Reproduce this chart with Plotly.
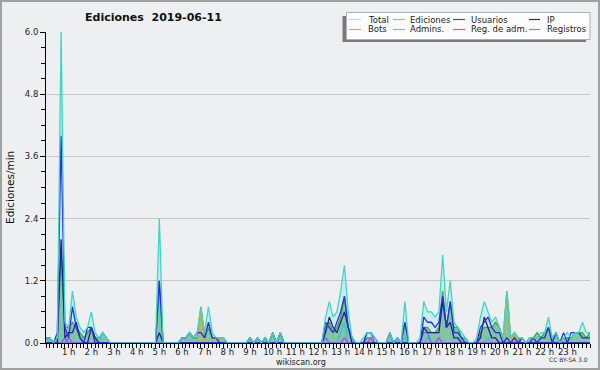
import plotly.graph_objects as go

# ---- data: edits per minute, 10-minute buckets, 00:00 .. 24:00 ----
total = [
    0.1, 0.1, 0, 0.1, 6.0, 0.4, 0.3, 1.0, 0.5, 0.3, 0.2, 0.3,
    0.6, 0.2, 0.1, 0.2, 0.1, 0, 0, 0, 0, 0, 0, 0,
    0, 0, 0, 0, 0, 0, 2.4, 0, 0, 0, 0, 0,
    0.1, 0.1, 0.2, 0.1, 0.2, 0.7, 0.2, 0.7, 0.2, 0.1, 0.1, 0.1,
    0, 0, 0, 0, 0, 0, 0.1, 0, 0.1, 0, 0.1, 0,
    0.2, 0, 0.2, 0, 0, 0, 0, 0, 0, 0, 0, 0,
    0, 0, 0.5, 0.8, 0.5, 0.6, 1.0, 1.5, 0.6, 0.1, 0, 0,
    0.1, 0.2, 0.2, 0.1, 0, 0, 0, 0.2, 0, 0.1, 0, 0.8,
    0, 0, 0, 0.1, 0.8, 0.6, 0.6, 0.5, 0.6, 1.7, 0.6, 1.2,
    0.4, 0.3, 0.2, 0.1, 0, 0, 0.1, 0.5, 0.8, 0.6, 0.4, 0.5,
    0.3, 0.1, 1.0, 0.1, 0.2, 0.1, 0.1, 0, 0.1, 0.1, 0.1, 0.2,
    0.2, 0.5, 0.1, 0.2, 0, 0.1, 0.2, 0.1, 0.2, 0.2, 0.4, 0.2,
    0.2,
]
ediciones = [
    0.1, 0.1, 0, 0.1, 1.8, 0.3, 0.3, 0.4, 0.3, 0.2, 0.1, 0.2,
    0.3, 0.1, 0.1, 0.2, 0.1, 0, 0, 0, 0, 0, 0, 0,
    0, 0, 0, 0, 0, 0, 1.2, 0, 0, 0, 0, 0,
    0.1, 0.1, 0.2, 0.1, 0.1, 0.7, 0.1, 0.3, 0.1, 0.1, 0.1, 0.1,
    0, 0, 0, 0, 0, 0, 0.1, 0, 0.1, 0, 0.1, 0,
    0.2, 0, 0.2, 0, 0, 0, 0, 0, 0, 0, 0, 0,
    0, 0, 0.3, 0.4, 0.2, 0.3, 0.5, 0.9, 0.3, 0.1, 0, 0,
    0, 0.1, 0.1, 0, 0, 0, 0, 0.2, 0, 0.1, 0, 0.4,
    0, 0, 0, 0, 0.3, 0.3, 0.2, 0.2, 0.3, 1.0, 0.3, 0.8,
    0.3, 0.3, 0.1, 0.1, 0, 0, 0, 0.2, 0.3, 0.3, 0.3, 0.4,
    0.3, 0.1, 1.0, 0.1, 0.2, 0.1, 0, 0, 0.1, 0.1, 0.2, 0.1,
    0.2, 0.3, 0.1, 0.2, 0, 0.1, 0.1, 0.1, 0.2, 0.2, 0.2, 0.1,
    0.2,
]
usuarios = [
    0.1, 0.1, 0, 0.2, 4.0, 0.3, 0.1, 0.7, 0.3, 0.1, 0, 0.3,
    0.3, 0, 0, 0, 0, 0, 0, 0, 0, 0, 0, 0,
    0, 0, 0, 0, 0, 0, 1.2, 0, 0, 0, 0, 0,
    0.1, 0.1, 0.2, 0.1, 0.2, 0.2, 0.1, 0.4, 0.1, 0.1, 0, 0,
    0, 0, 0, 0, 0, 0, 0.1, 0, 0.1, 0, 0.1, 0,
    0.2, 0, 0.2, 0, 0, 0, 0, 0, 0, 0, 0, 0,
    0, 0, 0.4, 0.3, 0.2, 0.4, 0.6, 0.9, 0.3, 0.1, 0, 0,
    0, 0.2, 0.2, 0.1, 0, 0, 0, 0.2, 0, 0.1, 0, 0.4,
    0, 0, 0, 0, 0.5, 0.4, 0.4, 0.3, 0.4, 0.9, 0.3, 0.8,
    0.2, 0.2, 0.1, 0, 0, 0, 0, 0.3, 0.4, 0.5, 0.3, 0.2,
    0.2, 0, 0.1, 0, 0.1, 0, 0.1, 0, 0, 0.1, 0, 0.1,
    0.1, 0.3, 0, 0.2, 0, 0.2, 0, 0.2, 0.2, 0.2, 0.1, 0.1,
    0.1,
]
ip = [
    0, 0, 0, 0, 2.0, 0.1, 0.2, 0.2, 0.4, 0.1, 0, 0,
    0.3, 0.1, 0, 0, 0, 0, 0, 0, 0, 0, 0, 0,
    0, 0, 0, 0, 0, 0, 0.2, 0, 0, 0, 0, 0,
    0, 0, 0, 0, 0, 0, 0, 0, 0, 0, 0, 0,
    0, 0, 0, 0, 0, 0, 0, 0, 0, 0, 0, 0,
    0, 0, 0, 0, 0, 0, 0, 0, 0, 0, 0, 0,
    0, 0, 0.2, 0.5, 0.3, 0.2, 0.4, 0.6, 0.3, 0, 0, 0,
    0, 0, 0, 0, 0, 0, 0, 0, 0, 0, 0, 0,
    0, 0, 0, 0, 0.3, 0.2, 0.2, 0.2, 0.2, 0.8, 0.3, 0.4,
    0.1, 0.1, 0, 0, 0, 0, 0, 0.1, 0.5, 0.3, 0.1, 0.1,
    0, 0, 0, 0, 0, 0, 0, 0, 0, 0, 0, 0,
    0, 0, 0, 0, 0, 0, 0, 0, 0, 0, 0, 0,
    0,
]
bots = [0] * 145
for i, v in [(0, 0.1), (41, 0.6), (45, 0.1), (46, 0.1), (47, 0.1), (122, 1.0), (124, 0.2)]:
    bots[i] = v
admins = [0] * 145
for i, v in [(0, 0.1), (15, 0.2), (16, 0.1), (78, 0.2), (79, 0.4), (95, 0.1), (101, 0.1), (117, 0.1)]:
    admins[i] = v
reg_adm = [0] * 145
for i, v in [(6, 0.1), (79, 0.1), (86, 0.1), (104, 0.1)]:
    reg_adm[i] = v
registros = [0] * 145
for i, v in [(5, 0.1), (74, 0.1), (85, 0.2), (86, 0.2), (100, 0.2), (101, 0.2)]:
    registros[i] = v

hours = [i / 6 for i in range(145)]
hour_ticks = list(range(1, 24))
hour_labels = [f"{h} h" for h in hour_ticks]

series = [
    ("Total", total, "#3fd6c8", "#a8e6e0"),
    ("Ediciones", ediciones, "#3aa83a", "#88cc88"),
    ("Usuarios", usuarios, "#2a2ae6", "#4646dc"),
    ("IP", ip, "#1e1e96", "#333333"),
    ("Bots", bots, "#f0a020", "#f0a040"),
    ("Admins.", admins, "#38c0e0", "#55ccdd"),
    ("Reg. de adm.", reg_adm, "#c040e8", "#cc55dd"),
    ("Registros", registros, "#6a6aee", "#8080ee"),
]

BG = "#eeeff1"
FONT = "DejaVu Sans"
L, R, T, B, W, H = 46, 10, 32, 27, 600, 370
PW, PH = W - L - R, H - T - B


def px(x):
    return (x - L) / PW


def py(y):
    return (H - B - y) / PH


fig = go.Figure()
# fills
fig.add_trace(go.Scatter(x=hours, y=total, mode="none", fill="tozeroy",
                         fillcolor="rgba(64,224,208,0.2)", hoverinfo="skip", showlegend=False))
fig.add_trace(go.Scatter(x=hours, y=ediciones, mode="none", fill="tozeroy",
                         fillcolor="rgba(60,155,95,0.5)", hoverinfo="skip", showlegend=False))
# lines
draw_order = ["Ediciones", "Bots", "Admins.", "Reg. de adm.", "Registros", "IP", "Usuarios", "Total"]
lookup = {s[0]: s for s in series}
for name in draw_order:
    n, vals, col, _ = lookup[name]
    fig.add_trace(go.Scatter(x=hours, y=vals, mode="lines", name=n,
                             line=dict(color=col, width=1.3), showlegend=False))

shapes = []
annotations = []
# outer border
shapes.append(dict(type="rect", xref="paper", yref="paper",
                   x0=px(1), x1=px(599), y0=py(369), y1=py(1),
                   line=dict(color="#a0a0a0", width=2), fillcolor="rgba(0,0,0,0)", layer="above"))
# legend box with shadow
shapes.append(dict(type="rect", xref="paper", yref="paper",
                   x0=px(342.5), x1=px(586), y0=py(42), y1=py(16),
                   line=dict(width=0), fillcolor="#7a7a7a", layer="above"))
shapes.append(dict(type="rect", xref="paper", yref="paper",
                   x0=px(346.5), x1=px(590), y0=py(39.5), y1=py(12.5),
                   line=dict(color="#b0b0b0", width=1), fillcolor="#fdfdfd", layer="above"))
cols = [(349, 361, 366), (393, 405, 408), (453, 465, 469), (529, 540, 545)]
rows = [19.5, 29.5]
for k, (n, vals, col, lcol) in enumerate(series):
    r, c = divmod(k, 4)
    x0, x1, xt = cols[c]
    yy = rows[r]
    shapes.append(dict(type="line", xref="paper", yref="paper",
                       x0=px(x0), x1=px(x1), y0=py(yy), y1=py(yy),
                       line=dict(color=lcol, width=1.2), layer="above"))
    annotations.append(dict(text=n, xref="paper", yref="paper", x=px(xt), y=py(yy),
                            xanchor="left", yanchor="middle", showarrow=False,
                            font=dict(family=FONT, size=8.5, color="#222")))

annotations.append(dict(text="Ediciones\u00a0\u00a02019-06-11", xref="paper", yref="paper",
                        x=px(153.5), y=py(17), xanchor="center", yanchor="middle", showarrow=False,
                        font=dict(family=FONT, size=11, color="#111", weight="bold")))
annotations.append(dict(text="Ediciones/min", xref="paper", yref="paper",
                        x=px(10), y=py(188), xanchor="center", yanchor="middle", showarrow=False,
                        textangle=-90, font=dict(family=FONT, size=10.5, color="#111")))
annotations.append(dict(text="wikiscan.org", xref="paper", yref="paper",
                        x=px(301), y=py(362), xanchor="center", yanchor="middle", showarrow=False,
                        font=dict(family=FONT, size=8, color="#222")))
annotations.append(dict(text="CC BY-SA 3.0", xref="paper", yref="paper",
                        x=px(590), y=py(359), xanchor="right", yanchor="middle", showarrow=False,
                        font=dict(family=FONT, size=6, color="#333")))

fig.update_layout(
    width=W, height=H, margin=dict(l=L, r=R, t=T, b=B),
    paper_bgcolor=BG, plot_bgcolor=BG, showlegend=False,
    shapes=shapes, annotations=annotations,
    font=dict(family=FONT, size=8.5, color="#222"),
)
fig.update_xaxes(range=[0, 24], tickmode="array", tickvals=hour_ticks, ticktext=hour_labels,
                 showgrid=False, zeroline=False, showline=True, linecolor="#000", linewidth=1,
                 ticks="outside", ticklen=4, tickcolor="#000", tickfont=dict(size=8.5),
                 ticklabelstandoff=-3,
                 minor=dict(dtick=1 / 6, tick0=0, ticks="outside", ticklen=4, tickcolor="#000"))
fig.update_yaxes(range=[0, 6], tickmode="linear", tick0=0, dtick=1.2, tickformat=".1f",
                 showgrid=True, gridcolor="#c8c8c8", gridwidth=1, zeroline=False,
                 showline=True, linecolor="#000", linewidth=1,
                 ticks="outside", ticklen=5, tickcolor="#000", tickfont=dict(size=8.5),
                 minor=dict(dtick=0.3, ticks="outside", ticklen=4, tickcolor="#000", showgrid=False))

fig.write_html("out.html", config={"displayModeBar": False},
               post_script="document.body.style.margin='0px';document.body.style.overflow='hidden';")
